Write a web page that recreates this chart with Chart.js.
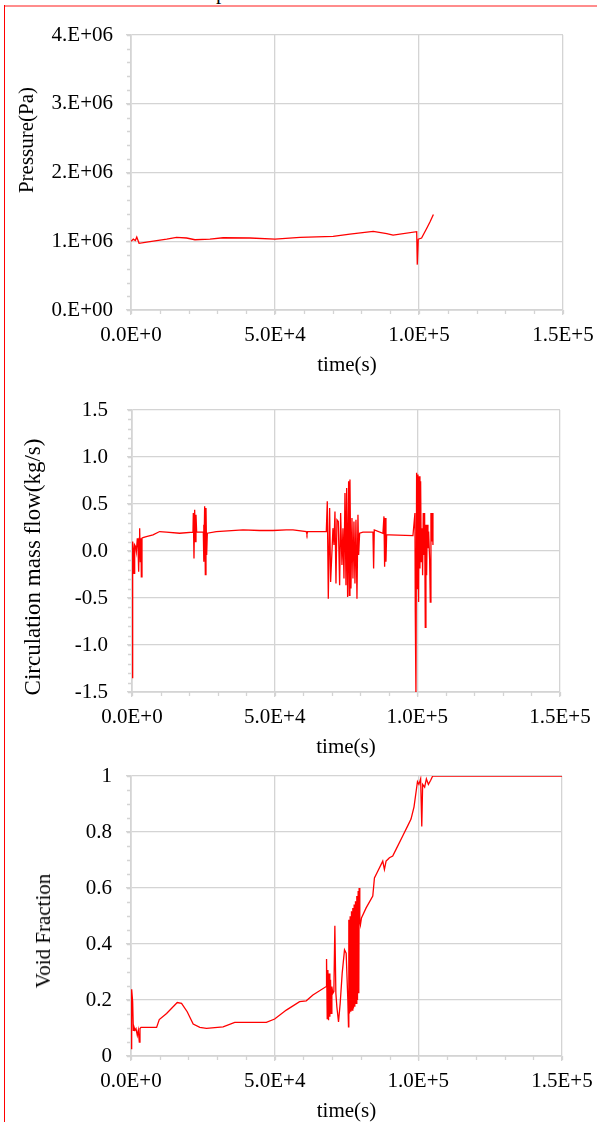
<!DOCTYPE html>
<html lang="en">
<head>
    <meta charset="UTF-8">
    <title>Pressure, circulation mass flow and void fraction</title>
    <script src="https://cdn.jsdelivr.net/npm/chart.js"></script>
    <style>
        body {
            margin: 0;
            width: 597px;
            height: 1122px;
            overflow: hidden;
            position: relative;
            background: #fff;
            font-family: "Liberation Serif", "Times New Roman", serif;
            color: #000;
        }
        .frame-top { position: absolute; left: 4px; top: 5px; width: 600px; border-top: 2px solid #ff8c8c; }
        .frame-left { position: absolute; left: 4px; top: 5px; height: 1200px; border-left: 1px solid #ff0000; }
        .cut-title { position: absolute; left: 216px; top: -18px; font-size: 21px; line-height: 21px; }
        .box { position: absolute; left: 0; width: 597px; }
        .ytitle {
            position: absolute;
            font-size: 21px;
            line-height: 24px;
            white-space: nowrap;
            transform: translate(-50%, -50%) rotate(-90deg);
        }
    </style>
</head>
<body>
    <div class="cut-title">p</div>
    <div class="frame-top"></div>
    <div class="frame-left"></div>

    <div class="box" style="top:0px"><canvas id="pressureChart" width="597" height="378"></canvas></div>
    <div class="box" style="top:378px"><canvas id="flowChart" width="597" height="382"></canvas></div>
    <div class="box" style="top:760px"><canvas id="voidChart" width="597" height="364"></canvas></div>

    <div class="ytitle" style="left:26px; top:140px">Pressure(Pa)</div>
    <div class="ytitle" style="left:33px; top:567px; font-size:23px">Circulation mass flow(kg/s)</div>
    <div class="ytitle" style="left:43px; top:931px">Void Fraction</div>

    <script>
        // tick labels
        const xTickLabels = ["0.0E+0", "5.0E+4", "1.0E+5", "1.5E+5"];
        const pressureTickLabels = ["0.E+00", "1.E+06", "2.E+06", "3.E+06", "4.E+06"];
        const flowTickLabels = ["-1.5", "-1.0", "-0.5", "0.0", "0.5", "1.0", "1.5"];
        const voidTickLabels = ["0", "0.2", "0.4", "0.6", "0.8", "1"];

        // pressure (Pa) vs time (s)
        const pressureTime = [0, 800, 1500, 2000, 2800, 6000, 12400, 15800, 19300, 22200,
            27400, 32000, 41300, 50000, 58700, 70200, 76000, 84100, 88800, 91000,
            99200, 99400, 99750, 100900, 102700, 103800, 105000];
        const pressureValues = [1.00e6, 1.03e6, 1.01e6, 1.06e6, 0.97e6, 0.99e6, 1.03e6, 1.055e6, 1.047e6, 1.022e6,
            1.032e6, 1.051e6, 1.047e6, 1.032e6, 1.055e6, 1.07e6, 1.105e6, 1.143e6, 1.11e6, 1.09e6,
            1.139e6, 0.66e6, 1.03e6, 1.047e6, 1.19e6, 1.28e6, 1.39e6];

        // circulation mass flow (kg/s) vs time (s)
        const flowTime = [
            0, 234, 467, 701, 934, 1285, 1518, 1869, 2102, 2336,
            2570, 2686, 2920, 3154, 3270, 3504, 3854, 5022, 7358, 9694,
            12030, 16702, 21374, 21491, 21725, 21958, 22192, 22426, 22659, 24995,
            25112, 25229, 25462, 25696, 25930, 26163, 26397, 29550, 38894, 44734,
            49406, 54078, 56414, 61086, 61320, 61554, 68094, 68445, 68795, 69262,
            69613, 70430, 70781, 71131, 71482, 71832, 72299, 72766, 73117, 73584,
            73934, 74285, 74635, 74986, 75220, 75570, 75920, 76154, 76387, 76738,
            77088, 77438, 77789, 78139, 78490, 78840, 79190, 79424, 79774, 80942,
            84446, 84680, 84914, 87950, 88301, 88534, 88768, 89002, 89235, 90286,
            98462, 99163, 99280, 99514, 99747, 99981, 100214, 100448, 100682, 100915,
            101149, 101382, 101616, 101850, 102083, 102317, 102550, 102784, 103018, 103251,
            103485, 103718, 103952, 104302, 104536, 104770, 105003, 105237, 105470];
        const flowValues = [
            -1.346, 0.10, 0.029, -0.239, 0.064, 0.046, -0.007, 0.136, 0.064, -0.221,
            0.136, 0.243, -0.114, 0.136, -0.275, 0.136, 0.143, 0.154, 0.171, 0.207,
            0.200, 0.189, 0.200, 0.404, -0.079, 0.439, 0.100, 0.386, 0.200, 0.200,
            0.279, -0.114, 0.475, -0.250, 0.457, -0.043, 0.189, 0.207, 0.225, 0.218,
            0.218, 0.225, 0.225, 0.207, 0.179, 0.207, 0.207, 0.529, -0.507, 0.457,
            -0.329, 0.243, 0.064, 0.421, -0.346, 0.332, 0.314, -0.364, 0.404, -0.150,
            0.243, -0.293, 0.618, -0.364, 0.671, -0.489, 0.743, -0.471, 0.761, -0.400,
            0.350, -0.293, 0.314, -0.346, 0.332, -0.507, 0.386, -0.043, 0.189, 0.200,
            0.200, -0.186, 0.225, 0.189, 0.368, -0.168, 0.350, -0.114, 0.171, 0.171,
            0.164, 0.404, -0.650, -1.52, 0.832, -0.400, 0.814, -0.543, 0.796, -0.186,
            0.743, -0.114, 0.243, -0.257, 0.404, -0.043, 0.404, -0.811, 0.279, -0.257,
            0.279, 0.029, 0.207, -0.079, -0.543, 0.404, 0.100, 0.404, 0.064];

        // void fraction vs time (s)
        const voidTime = [
            0, 231, 579, 810, 1042, 1389, 1736, 2199, 2546, 2894,
            3125, 3472, 8912, 9838, 12384, 16088, 17593, 19560, 21643, 23958,
            26273, 32060, 36111, 47106, 50000, 54051, 58681, 60995, 63310, 67940,
            68056, 68287, 68519, 68750, 68981, 69213, 69444, 69676, 69907, 70255,
            70602, 70949, 71296, 71644, 72222, 72801, 73495, 74306, 74884, 75463,
            75694, 75810, 76042, 76273, 76505, 76736, 76968, 77199, 77431, 77662,
            77894, 78125, 78356, 78588, 78819, 79051, 79282, 79398, 79630, 79861,
            80208, 81829, 84144, 84722, 85880, 87616, 88194, 88773, 89352, 89931,
            91088, 92245, 94560, 96296, 97454, 98500, 99300, 99700, 100200, 100800,
            101200, 101500, 102200, 102800, 103500, 104300, 105000, 150000];
        const voidValues = [
            0.026, 0.238, 0.194, 0.092, 0.104, 0.092, 0.098, 0.074, 0.092, 0.050,
            0.098, 0.102, 0.102, 0.130, 0.152, 0.191, 0.188, 0.158, 0.114, 0.102,
            0.099, 0.104, 0.120, 0.120, 0.132, 0.164, 0.194, 0.197, 0.218, 0.248,
            0.346, 0.134, 0.307, 0.128, 0.295, 0.140, 0.272, 0.152, 0.248, 0.224,
            0.230, 0.465, 0.224, 0.176, 0.122, 0.188, 0.295, 0.379, 0.367, 0.200,
            0.104, 0.487, 0.152, 0.499, 0.158, 0.517, 0.164, 0.529, 0.170, 0.541,
            0.176, 0.553, 0.188, 0.571, 0.200, 0.589, 0.224, 0.600, 0.487, 0.469,
            0.493, 0.529, 0.571, 0.636, 0.660, 0.696, 0.666, 0.696, 0.702, 0.708,
            0.714, 0.738, 0.786, 0.822, 0.846, 0.890, 0.950, 0.980, 0.970, 0.990,
            0.820, 0.970, 0.960, 0.990, 0.970, 0.985, 1.000, 1.000];

        const gridColor = "#d4d4d4";
        const font = { family: "'Liberation Serif', 'Times New Roman', serif", size: 21 };

        // small unlabelled ticks between the major ones
        const minorTicks = {
            id: "minorTicks",
            beforeDatasetsDraw(chart, args, opts) {
                const ctx = chart.ctx;
                const x = chart.scales.x, y = chart.scales.y;
                ctx.save();
                ctx.strokeStyle = gridColor;
                ctx.lineWidth = 1.3;
                ctx.beginPath();
                const nx = Math.round((x.max - x.min) / opts.xStep);
                for (let i = 0; i <= nx; i++) {
                    const px = Math.round(x.getPixelForValue(x.min + i * opts.xStep)) + 0.5;
                    ctx.moveTo(px, y.bottom);
                    ctx.lineTo(px, y.bottom + 4);
                }
                const ny = Math.round((y.max - y.min) / opts.yStep);
                for (let i = 0; i <= ny; i++) {
                    const py = Math.round(y.getPixelForValue(y.min + i * opts.yStep)) + 0.5;
                    ctx.moveTo(x.left, py);
                    ctx.lineTo(x.left - 4, py);
                }
                ctx.stroke();
                ctx.restore();
            }
        };

        function makeChart(id, times, values, cfg) {
            const points = times.map((t, i) => ({ x: t, y: values[i] }));
            return new Chart(document.getElementById(id), {
                type: "line",
                data: {
                    datasets: [{
                        data: points,
                        borderColor: "#ff0000",
                        borderWidth: 1.3,
                        pointRadius: 0,
                        tension: 0,
                        fill: false
                    }]
                },
                plugins: [minorTicks],
                options: {
                    responsive: false,
                    animation: false,
                    events: [],
                    layout: { padding: { left: 0, right: cfg.right, top: cfg.top, bottom: 0 } },
                    plugins: {
                        legend: { display: false },
                        tooltip: { enabled: false },
                        minorTicks: { xStep: 10000, yStep: cfg.yMinor }
                    },
                    scales: {
                        x: {
                            type: "linear",
                            min: 0,
                            max: 150000,
                            afterFit: s => { s.height = 68; s.paddingLeft = 0; s.paddingRight = 0; },
                            ticks: {
                                stepSize: 50000,
                                autoSkip: false,
                                maxRotation: 0,
                                padding: 7.5,
                                color: "#000",
                                font: font,
                                callback: (v, i) => xTickLabels[i]
                            },
                            grid: { color: gridColor, lineWidth: 1.3, tickLength: 5 },
                            border: { color: gridColor, width: 1.7 },
                            title: { display: true, text: "time(s)", color: "#000", font: font, padding: 0 }
                        },
                        y: {
                            min: cfg.min,
                            max: cfg.max,
                            afterFit: s => { s.width = cfg.left; s.paddingTop = 0; s.paddingBottom = 0; },
                            ticks: {
                                stepSize: cfg.step,
                                autoSkip: false,
                                padding: cfg.labelPad,
                                color: "#000",
                                font: font,
                                callback: (v, i) => cfg.labels[i]
                            },
                            grid: { color: gridColor, lineWidth: 1.3, tickLength: 5 },
                            border: { color: gridColor, width: 1.7 }
                        }
                    }
                }
            });
        }

        makeChart("pressureChart", pressureTime, pressureValues, {
            min: 0, max: 4e6, step: 1e6, yMinor: 2e5, labels: pressureTickLabels,
            left: 131, right: 34, top: 35, labelPad: 13
        });
        makeChart("flowChart", flowTime, flowValues, {
            min: -1.5, max: 1.5, step: 0.5, yMinor: 0.1, labels: flowTickLabels,
            left: 132, right: 37, top: 32, labelPad: 19
        });
        makeChart("voidChart", voidTime, voidValues, {
            min: 0, max: 1, step: 0.2, yMinor: 0.05, labels: voidTickLabels,
            left: 131, right: 35, top: 16, labelPad: 14
        });
    </script>
</body>
</html>
